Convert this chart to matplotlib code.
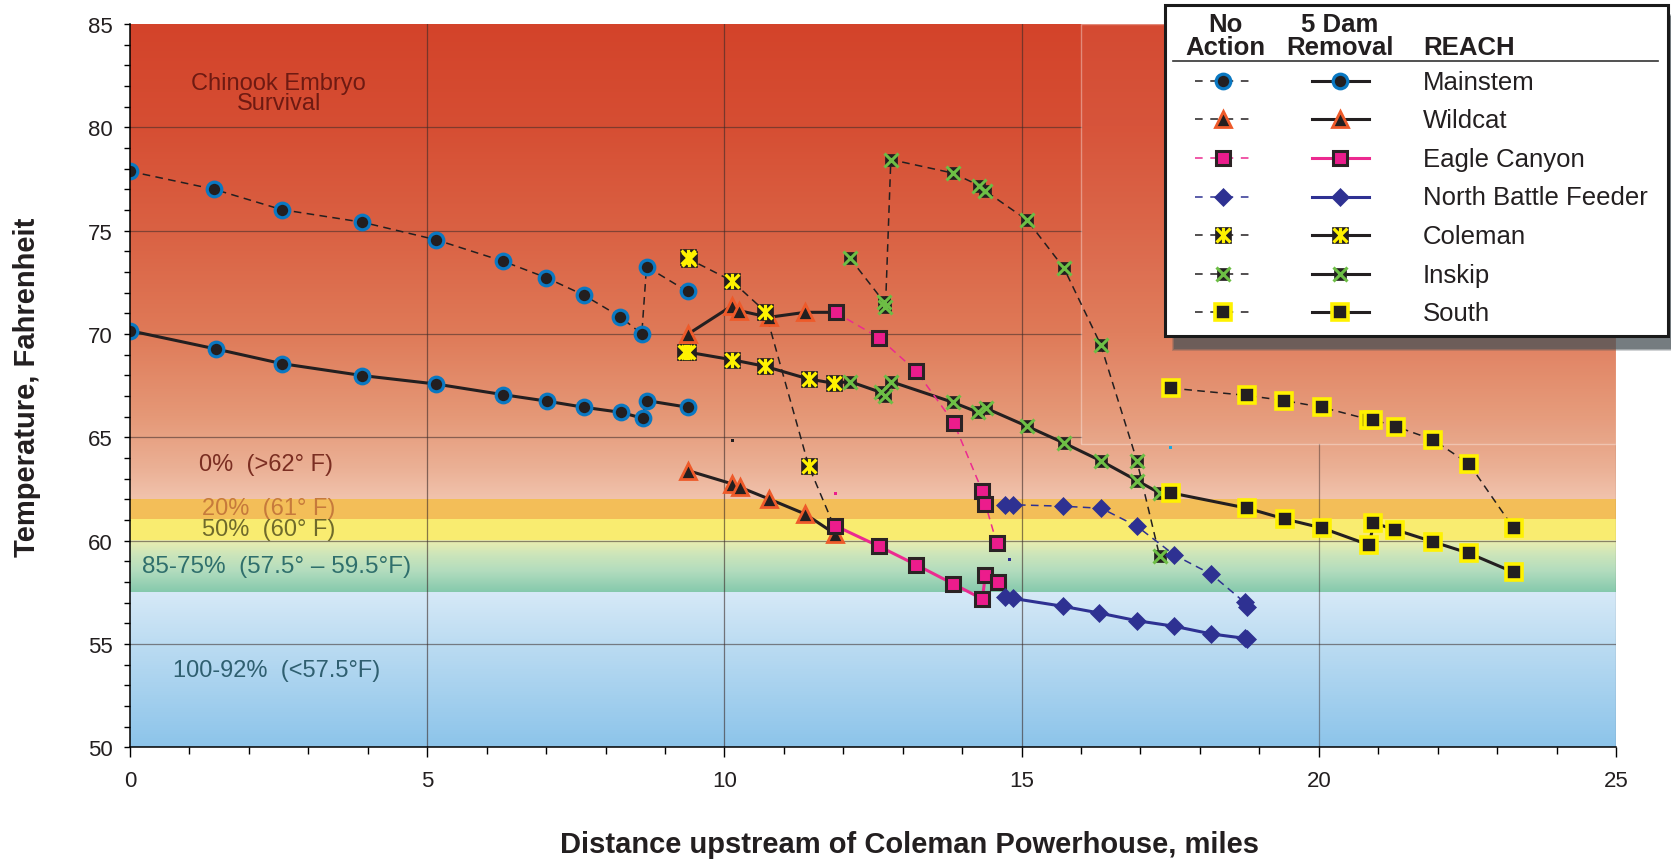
import numpy as np
import matplotlib
matplotlib.use("Agg")
import matplotlib.pyplot as plt
from matplotlib.path import Path
from matplotlib.patches import Rectangle
from matplotlib.ticker import MultipleLocator
from matplotlib.colors import to_rgb

plt.rcParams['font.family'] = ['Liberation Sans', 'DejaVu Sans']

# ---------------- data (miles upstream, deg F) ----------------
mainstem_na_x = [0.0, 1.42, 2.55, 3.91, 5.15, 6.28, 7.00, 7.63, 8.25, 8.61, 8.69, 9.38]
mainstem_na_y = [77.87, 77.00, 76.02, 75.41, 74.56, 73.52, 72.73, 71.89, 70.83, 70.00, 73.26, 72.06]
mainstem_5d_x = [0.0, 1.44, 2.55, 3.91, 5.15, 6.27, 7.02, 7.63, 8.26, 8.63, 8.69, 9.38]
mainstem_5d_y = [70.16, 69.28, 68.57, 67.99, 67.58, 67.07, 66.75, 66.46, 66.21, 65.92, 66.78, 66.46]

wildcat_na_x = [9.39, 10.13, 10.25, 10.75, 11.36, 11.87]
wildcat_na_y = [70.00, 71.37, 71.13, 70.81, 71.05, 71.05]
wildcat_5d_x = [9.39, 10.13, 10.26, 10.75, 11.36, 11.86]
wildcat_5d_y = [63.39, 62.75, 62.59, 62.02, 61.29, 60.33]

eagle_na_x = [11.87, 12.60, 13.23, 13.86, 14.34, 14.39, 14.58]
eagle_na_y = [71.05, 69.82, 68.20, 65.70, 62.39, 61.78, 59.90]
eagle_5d_x = [11.86, 12.60, 13.23, 13.85, 14.34, 14.39, 14.61]
eagle_5d_y = [60.73, 59.73, 58.83, 57.91, 57.18, 58.34, 57.99]

nbf_na_x = [14.72, 14.85, 15.69, 16.34, 16.94, 17.57, 18.19, 18.75, 18.80]
nbf_na_y = [61.74, 61.74, 61.67, 61.57, 60.70, 59.31, 58.38, 57.02, 56.78]
nbf_5d_x = [14.72, 14.85, 15.69, 16.31, 16.94, 17.57, 18.19, 18.75, 18.80]
nbf_5d_y = [57.26, 57.21, 56.83, 56.50, 56.13, 55.86, 55.49, 55.28, 55.25]

coleman_na_x = [9.38, 9.41, 10.12, 10.69, 11.42, 11.86]
coleman_na_y = [73.72, 73.62, 72.58, 71.08, 63.60, 60.60]
coleman_5d_x = [9.33, 9.39, 10.12, 10.68, 11.42, 11.84, 12.11]
coleman_5d_y = [69.15, 69.12, 68.76, 68.44, 67.82, 67.62, 67.70]

inskip_na_x = [12.11, 12.68, 12.71, 12.80, 13.84, 14.29, 14.38, 15.09, 15.71, 16.33, 16.94, 17.32]
inskip_na_y = [73.68, 71.57, 71.29, 78.44, 77.79, 77.18, 76.94, 75.52, 73.20, 69.49, 63.87, 59.28]
inskip_5d_x = [12.11, 12.63, 12.71, 12.80, 13.84, 14.27, 14.40, 15.09, 15.71, 16.33, 16.94, 17.32]
inskip_5d_y = [67.70, 67.18, 66.99, 67.70, 66.70, 66.21, 66.41, 65.54, 64.73, 63.87, 62.91, 62.31]

south_na_x = [17.52, 18.79, 19.42, 20.05, 20.85, 20.91, 21.30, 21.92, 22.53, 23.28]
south_na_y = [67.38, 67.03, 66.78, 66.46, 65.86, 65.86, 65.52, 64.89, 63.71, 60.60]
south_5d_x = [17.52, 18.80, 19.43, 20.05, 20.85, 20.92, 21.29, 21.92, 22.53, 23.28]
south_5d_y = [62.31, 61.57, 61.05, 60.62, 59.79, 60.86, 60.53, 59.95, 59.39, 58.47]

stray_x = [10.13, 11.87, 14.79, 17.51]
stray_y = [64.84, 62.27, 59.08, 64.52]
stray_c = ['#231F20', '#EC1C8C', '#2E3192', '#1BA8E0']

reach_names = ['Mainstem', 'Wildcat', 'Eagle Canyon', 'North Battle Feeder',
               'Coleman', 'Inskip', 'South']

band_labels = ['0%  (>62° F)', '20%  (61° F)', '50%  (60° F)',
               '85-75%  (57.5° – 59.5°F)', '100-92%  (<57.5°F)']

# ---------------- marker styles ----------------
DARK = '#231F20'
coleman_star = Path([(-1, -1), (1, 1), (-1, 1), (1, -1), (0, -1.1), (0, 1.1)],
                    [Path.MOVETO, Path.LINETO] * 3)

styles = {
    'Mainstem': dict(line='#231F20',
                     base=dict(marker='o', ms=10.5, mfc=DARK, mec='#0A78C2', mew=2.3)),
    'Wildcat': dict(line='#231F20',
                    base=dict(marker='^', ms=11.5, mfc=DARK, mec='#EE5A2A', mew=2.0)),
    'Eagle Canyon': dict(line='#EC2A90',
                         base=dict(marker='s', ms=10.5, mfc='#EC1C8C', mec='#2B2324', mew=2.2)),
    'North Battle Feeder': dict(line='#2E3192',
                                base=dict(marker='D', ms=9, mfc='#2E3192', mec='#2E3192', mew=0.5)),
    'Coleman': dict(line='#231F20',
                    base=dict(marker='s', ms=11, mfc=DARK, mec=DARK, mew=0.5),
                    over=dict(marker=coleman_star, ms=11, mfc='none', mec='#FFF200', mew=2.3)),
    'Inskip': dict(line='#231F20',
                   base=dict(marker='s', ms=8.5, mfc=DARK, mec=DARK, mew=0.5),
                   over=dict(marker='x', ms=9.5, mec='#6DBE45', mew=2.2)),
    'South': dict(line='#231F20',
                  base=dict(marker='s', ms=11, mfc=DARK, mec='#FFF200', mew=2.6)),
}

NA_LW, FD_LW = 1.1, 2.2
NA_DASH = (5, 3.5)


def draw(ax, name, x, y, solid, hide_last=False, lw=None, z=3):
    st = styles[name]
    ls = '-' if solid else '--'
    lw = lw if lw is not None else (FD_LW if solid else NA_LW)
    ln, = ax.plot(x, y, color=st['line'], lw=lw, ls=ls, zorder=z)
    if not solid:
        ln.set_dashes(NA_DASH)
    n = len(x) - 1 if hide_last else len(x)
    ax.plot(x[:n], y[:n], ls='none', zorder=z + 0.1, **st['base'])
    if 'over' in st:
        ax.plot(x[:n], y[:n], ls='none', zorder=z + 0.2, **st['over'])


# ---------------- figure ----------------
W, H = 1671, 862
fig = plt.figure(figsize=(W / 100, H / 100), dpi=100)
ax = fig.add_axes([130 / W, 1 - 748.4 / H, (1616 - 130) / W, (748.4 - 25) / H])
ax.set_xlim(0, 25)
ax.set_ylim(50, 85)

# background survival bands
stops = [
    (85.0, '#D3432A'), (80.0, '#D64E33'), (75.0, '#DA6143'), (70.0, '#DF7A58'),
    (66.0, '#E59877'), (63.5, '#EBB095'), (62.0001, '#F1C3AD'),
    (62.0, '#F3BE58'), (61.0001, '#F3BE58'),
    (61.0, '#F9EC70'), (60.0001, '#F9EC70'),
    (60.0, '#ECEEAF'), (59.3, '#CCE5BA'), (58.5, '#B2DCBE'), (57.5001, '#85C9AC'),
    (57.5, '#D6E9F7'), (55.0, '#BCDCF2'), (50.0, '#8CC4EA'),
]
sy = np.array([s[0] for s in stops])[::-1]
sc = np.array([to_rgb(s[1]) for s in stops])[::-1]
yy = np.linspace(85, 50, 3500)
img = np.stack([np.interp(yy, sy, sc[:, k]) for k in range(3)], axis=-1)[:, None, :]
ax.imshow(img, extent=[0, 25, 50, 85], aspect='auto', origin='upper',
          interpolation='nearest', zorder=0)

# grid
gcol = '#3a2a28'
for gy in [55, 60]:
    ax.plot([0, 25], [gy, gy], color=gcol, lw=0.9, alpha=0.55, zorder=1)
for gy in [65, 70, 75, 80]:
    ax.plot([0, 16], [gy, gy], color=gcol, lw=0.9, alpha=0.55, zorder=1)
for gx in [5, 10, 15]:
    ax.plot([gx, gx], [50, 85], color=gcol, lw=0.9, alpha=0.6, zorder=1)
for gx in [20, 25]:
    ax.plot([gx, gx], [50, 64.7], color=gcol, lw=0.9, alpha=0.45, zorder=1)
ax.add_patch(Rectangle((16, 64.7), 9, 20.3, facecolor='white', alpha=0.04,
                       edgecolor='none', zorder=1.2))
ax.add_patch(Rectangle((16, 64.7), 9, 20.3, facecolor='none',
                       edgecolor=(1, 1, 1, 0.35), lw=1.0, zorder=1.3))

# band annotations
tfs = 17
ax.text(2.5, 81.66, 'Chinook Embryo\nSurvival', ha='center', va='center',
        fontsize=tfs, color='#6E1A12', linespacing=0.85, zorder=2)
ax.text(1.16, 63.71, band_labels[0], ha='left', va='center', fontsize=tfs, color='#7B2E22', zorder=2)
ax.text(1.21, 61.60, band_labels[1], ha='left', va='center', fontsize=tfs, color='#C67A3C', zorder=2)
ax.text(1.21, 60.55, band_labels[2], ha='left', va='center', fontsize=tfs, color='#6F6A2B', zorder=2)
ax.text(0.20, 58.78, band_labels[3], ha='left', va='center', fontsize=17.5, color='#2F6F6C', zorder=2)
ax.text(0.72, 53.75, band_labels[4], ha='left', va='center', fontsize=tfs, color='#2F5F70', zorder=2)

# series
draw(ax, 'Mainstem', mainstem_na_x, mainstem_na_y, solid=False)
draw(ax, 'Mainstem', mainstem_5d_x, mainstem_5d_y, solid=True)
draw(ax, 'Wildcat', wildcat_na_x, wildcat_na_y, solid=True, hide_last=True)
draw(ax, 'Wildcat', wildcat_5d_x, wildcat_5d_y, solid=True)
draw(ax, 'Coleman', coleman_na_x, coleman_na_y, solid=False, hide_last=True)
draw(ax, 'Coleman', coleman_5d_x, coleman_5d_y, solid=True, hide_last=True)
draw(ax, 'Inskip', inskip_na_x, inskip_na_y, solid=False)
draw(ax, 'Inskip', inskip_5d_x, inskip_5d_y, solid=True)
draw(ax, 'Eagle Canyon', eagle_na_x, eagle_na_y, solid=False, z=4)
draw(ax, 'Eagle Canyon', eagle_5d_x, eagle_5d_y, solid=True, z=4)
draw(ax, 'North Battle Feeder', nbf_na_x, nbf_na_y, solid=False, z=4)
draw(ax, 'North Battle Feeder', nbf_5d_x, nbf_5d_y, solid=True, z=4)
draw(ax, 'South', south_na_x, south_na_y, solid=False, z=5)
draw(ax, 'South', south_5d_x, south_5d_y, solid=True, z=5)
ax.scatter(stray_x, stray_y, s=5, marker='s', c=stray_c, linewidths=0, zorder=6)

# axes cosmetics
for sp in ['top', 'right']:
    ax.spines[sp].set_visible(False)
for sp in ['left', 'bottom']:
    ax.spines[sp].set_color('black')
    ax.spines[sp].set_linewidth(1.1)
    ax.spines[sp].set_zorder(7)
ax.set_xticks(range(0, 26, 5))
ax.set_yticks(range(50, 86, 5))
ax.xaxis.set_minor_locator(MultipleLocator(1))
ax.yaxis.set_minor_locator(MultipleLocator(1))
ax.tick_params(axis='x', which='major', length=7.2, width=1.0, direction='out',
               labelsize=16, pad=9, colors='black', labelcolor='#231F20')
ax.tick_params(axis='x', which='minor', length=5, width=1.0, direction='out')
ax.tick_params(axis='y', which='major', length=4.5, width=1.0, direction='out',
               labelsize=16, pad=8, labelcolor='#231F20')
ax.tick_params(axis='y', which='minor', length=4, width=1.0, direction='out')

ax.set_xlabel('Distance upstream of Coleman Powerhouse, miles', fontsize=21,
              fontweight='bold', color='#231F20')
ax.xaxis.set_label_coords((909 - 130) / 1486, (748.4 - 845) / 723.4)
ax.xaxis.label.set_va('center')
ax.set_ylabel('Temperature, Fahrenheit', fontsize=21, fontweight='bold', color='#231F20')
ax.yaxis.set_label_coords((27 - 130) / 1486, (748.4 - 387) / 723.4)
ax.yaxis.label.set_va('center')

# ---------------- legend (pixel coordinates) ----------------
lg = fig.add_axes([0, 0, 1, 1], zorder=10)
lg.set_xlim(0, W)
lg.set_ylim(H, 0)
lg.axis('off')
lg.patch.set_alpha(0)

bx0, by0, bx1, by1 = 1165, 6, 1668, 337
for k, a in enumerate([0.25, 0.35, 0.5]):
    g = 3 - k
    lg.add_patch(Rectangle((bx0 + 10 - g, by0 + 12 - g), bx1 - bx0 + 2 * g, by1 - by0 + 2 * g,
                           facecolor='#4A5358', alpha=a, edgecolor='none', zorder=1))
lg.add_patch(Rectangle((bx0, by0), bx1 - bx0, by1 - by0, facecolor='white',
                       edgecolor='#1a1a1a', lw=2.2, zorder=2))

hfs = 18.5
lg.text(1225.7, 25, 'No', ha='center', va='center', fontsize=hfs, fontweight='bold', color=DARK, zorder=3)
lg.text(1225.7, 48, 'Action', ha='center', va='center', fontsize=hfs, fontweight='bold', color=DARK, zorder=3)
lg.text(1340, 25, '5 Dam', ha='center', va='center', fontsize=hfs, fontweight='bold', color=DARK, zorder=3)
lg.text(1340, 48, 'Removal', ha='center', va='center', fontsize=hfs, fontweight='bold', color=DARK, zorder=3)
lg.text(1423, 48, 'REACH', ha='left', va='center', fontsize=hfs, fontweight='bold', color=DARK, zorder=3)
lg.plot([1172.7, 1657.7], [61.7, 61.7], color='#333333', lw=1.2, zorder=3)

for i, name in enumerate(reach_names):
    ry = 81.7 + i * 38.6
    st = styles[name]
    ln, = lg.plot([1195, 1251.7], [ry, ry], color=st['line'], lw=NA_LW, ls='--', zorder=3)
    ln.set_dashes((5, 5))
    lg.plot([1311.7, 1369.3], [ry, ry], color=st['line'], lw=FD_LW, zorder=3)
    for mx in (1223.3, 1340):
        lg.plot([mx], [ry], ls='none', zorder=4, **st['base'])
        if 'over' in st:
            lg.plot([mx], [ry], ls='none', zorder=4.1, **st['over'])
    lg.text(1423, ry + 1, name, ha='left', va='center', fontsize=18.5, color=DARK, zorder=3)

fig.savefig('out.png', dpi=100)
